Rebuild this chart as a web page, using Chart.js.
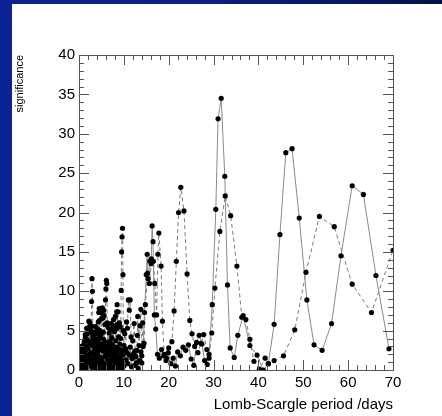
<!DOCTYPE html>
<html>
<head>
<meta charset="utf-8">
<script src="https://cdn.jsdelivr.net/npm/chart.js@4.4.0/dist/chart.umd.min.js"></script>
<style>
  html, body { margin: 0; padding: 0; }
  body {
    width: 442px; height: 416px; position: relative; overflow: hidden;
    background: linear-gradient(90deg, #0b2394 0%, #0a1f86 45%, #04124a 100%);
  }
  #paper { position: absolute; left: 12px; top: 4px; width: 430px; height: 412px; background: #fff; }
  #chart { position: absolute; left: 0; top: 0; }
</style>
</head>
<body>
<div id="paper"></div>
<canvas id="chart" width="442" height="416"></canvas>
<script>
// period grid for the dense short-period part (days)
const lowPeriods = [
  0.1, 0.2, 0.3, 0.4, 0.5, 0.6, 0.7, 0.8, 0.9, 1.0,
  1.1, 1.2, 1.3, 1.4, 1.5, 1.6, 1.7, 1.8, 1.9, 2.0,
  2.1, 2.2, 2.3, 2.4, 2.5, 2.6, 2.7, 2.8, 2.9, 3.0,
  3.1, 3.2, 3.3, 3.4, 3.5, 3.6, 3.7, 3.8, 3.9, 4.0,
  4.1, 4.2, 4.3, 4.4, 4.5, 4.6, 4.7, 4.8, 4.9, 5.0,
  5.1, 5.2, 5.3, 5.4, 5.5, 5.6, 5.7, 5.8, 5.9, 6.0,
  6.1, 6.2, 6.3, 6.4, 6.5, 6.6, 6.7, 6.8, 6.9, 7.0,
  7.1, 7.2, 7.3, 7.4, 7.5, 7.6, 7.7, 7.8, 7.9, 8.0,
  8.1, 8.2, 8.3, 8.4, 8.5, 8.6, 8.7, 8.8, 8.9, 9.0,
  9.1, 9.2, 9.3, 9.4, 9.5, 9.6, 9.7, 9.8, 9.9, 10.0
];

const solidLow = [
  0.3, 2.1, 1.0, 2.6, 0.1, 1.6, 2.9, 0.7, 1.9, 1.3,
  3.3, 0.4, 2.4, 4.1, 1.1, 3.0, 0.2, 4.6, 1.7, 2.7,
  5.4, 0.8, 3.6, 6.0, 1.4, 4.8, 2.2, 5.6, 0.3, 3.1,
  4.2, 1.9, 0.5, 3.4, 2.6, 0.9, 4.0, 1.4, 0.1, 2.9,
  2.2, 0.4, 3.6, 1.0, 3.0, 0.2, 4.1, 1.6, 0.7, 2.6,
  1.2, 3.3, 0.3, 2.4, 3.9, 0.8, 2.9, 1.7, 0.1, 2.1,
  3.5, 0.5, 2.7, 1.3, 0.2, 3.1, 2.0, 0.7, 2.4, 1.1,
  0.3, 2.8, 1.8, 0.4, 3.2, 2.3, 0.1, 1.5, 2.6, 0.9,
  2.0, 0.6, 2.9, 0.2, 1.4, 2.4, 0.4, 1.8, 1.0, 2.7,
  0.3, 1.7, 2.5, 0.7, 1.2, 2.2, 0.2, 1.9, 1.1, 0.5
];

const dashedLow = [
  1.1, 0.2, 2.4, 0.6, 1.7, 3.0, 0.3, 1.4, 2.8, 0.9,
  0.4, 3.6, 1.9, 4.5, 0.7, 2.6, 5.3, 1.2, 3.8, 0.5,
  4.9, 6.2, 2.0, 5.1, 3.3, 0.9, 5.0, 8.7, 11.6, 10.0,
  4.5, 1.3, 3.9, 0.6, 4.8, 2.2, 5.5, 1.0, 3.4, 4.6,
  1.8, 5.2, 6.1, 7.3, 7.8, 6.3, 5.0, 2.6, 4.4, 6.5,
  7.2, 7.9, 6.6, 4.8, 7.6, 6.9, 3.1, 5.8, 8.9, 10.3,
  11.4, 11.0, 6.0, 3.2, 5.4, 1.9, 4.7, 0.8, 3.6, 5.1,
  2.4, 5.9, 4.1, 1.5, 5.3, 3.0, 6.4, 2.1, 4.9, 5.6,
  6.8, 3.7, 5.2, 7.4, 8.3, 5.8, 7.4, 4.2, 2.5, 6.0,
  3.3, 5.5, 4.0, 10.1, 15.0, 16.9, 18.0, 12.1, 5.0, 3.1
];

// sparser long-period part
const solidHighPeriods = [
  10.2, 10.5, 10.7, 10.9, 11.2, 11.4, 11.7, 11.9, 12.2, 12.4, 12.7, 12.9, 13.2, 13.5,
  13.8, 14.0, 14.3, 14.6, 15.0, 15.2, 15.4, 15.8, 16.1, 16.3, 16.5, 16.8, 17.1, 17.5,
  17.9, 18.4, 18.9, 19.4, 19.9, 20.5, 21.0, 21.5, 22.0, 22.6, 23.2, 23.8, 24.4, 25.0,
  25.6, 26.2, 26.8, 27.4, 28.0, 28.6, 29.0, 29.7, 30.5, 31.0, 31.7, 32.5, 33.1, 33.7,
  34.6, 35.4, 36.6, 38.1, 39.7, 41.1, 42.2, 43.5, 44.8, 46.1, 47.5, 49.1, 50.8, 52.4,
  54.2, 56.3, 58.4, 60.9, 63.4, 66.2, 69.1
];
const solidHigh = [
  2.6, 1.3, 2.2, 0.8, 1.9, 2.9, 0.4, 1.5, 2.1, 0.6, 1.7, 2.5, 0.2, 1.2,
  2.3, 0.9, 3.0, 7.3, 12.1, 14.7, 11.6, 13.8, 14.1, 18.3, 16.3, 7.0, 5.2, 2.0,
  1.5, 2.6, 1.8, 1.2, 2.2, 0.8, 1.5, 0.5, 2.3, 1.8, 2.9, 2.5, 3.2, 1.4,
  0.6, 3.5, 4.4, 3.3, 1.2, 0.7, 2.0, 8.3, 20.4, 31.9, 34.5, 24.6, 10.8, 2.8,
  1.6, 4.4, 6.9, 3.1, 1.9, 0.0, 0.8, 5.8, 17.2, 27.6, 28.1, 19.3, 8.9, 3.2,
  2.5, 5.9, 14.5, 23.4, 22.3, 12.0, 2.7
];

const dashedHighPeriods = [
  10.2, 10.4, 10.6, 10.8, 11.0, 11.2, 11.4, 11.6, 11.8, 12.0, 12.3, 12.5, 12.8, 13.0,
  13.1, 13.4, 13.6, 13.8, 14.0, 14.2, 14.5, 14.8, 15.3, 15.7, 16.1, 16.6, 16.9, 17.3,
  17.6, 17.8, 18.3, 18.6, 19.0, 19.5, 20.0, 20.7, 21.2, 21.7, 22.2, 22.7, 23.4, 24.1,
  24.7, 25.2, 25.8, 26.5, 27.2, 27.8, 28.5, 29.0, 29.6, 30.3, 31.4, 32.6, 33.8, 35.2,
  36.3, 37.2, 38.1, 39.0, 40.2, 41.5, 42.2, 43.5, 45.6, 48.1, 50.6, 53.6, 56.9, 60.9,
  65.2, 70.0
];
const dashedHigh = [
  4.6, 2.7, 6.1, 5.3, 8.9, 7.6, 8.9, 4.2, 1.5, 3.7, 5.9, 2.4, 0.9, 4.4,
  6.8, 3.1, 5.6, 7.7, 1.8, 6.0, 3.4, 8.3, 12.3, 11.0, 13.5, 13.8, 11.0, 7.0,
  14.7, 17.4, 13.2, 6.2, 2.0, 1.5, 2.8, 3.6, 7.5, 13.8, 20.0, 23.2, 20.2, 12.2,
  6.3, 4.6, 3.0, 2.2, 3.4, 4.5, 2.6, 1.5, 4.7, 10.4, 17.6, 22.1, 19.6, 13.2,
  6.7, 6.4, 3.9, 1.1, 0.1, 1.5, 0.8, 1.2, 1.8, 5.1, 12.4, 19.5, 18.2, 10.9,
  7.3, 15.2
];

const xTicks = [0, 10, 20, 30, 40, 50, 60, 70];
const yTicks = [0, 5, 10, 15, 20, 25, 30, 35, 40];

function toPoints(xs, ys) {
    return xs.map((x, i) => ({ x: x, y: ys[i] }));
}

const solidData = toPoints(lowPeriods, solidLow).concat(toPoints(solidHighPeriods, solidHigh));
const dashedData = toPoints(lowPeriods, dashedLow).concat(toPoints(dashedHighPeriods, dashedHigh));

// ROOT-like frame with inward ticks on all four sides
const frameTicks = {
    id: 'frameTicks',
    afterDraw(chart) {
        const ctx = chart.ctx;
        const a = chart.chartArea;
        const xs = chart.scales.x, ys = chart.scales.y;
        ctx.save();
        ctx.strokeStyle = '#555';
        ctx.lineWidth = 1;
        ctx.beginPath();
        for (let v = 0; v <= 70; v += 2) {
            const px = Math.round(xs.getPixelForValue(v)) + 0.5;
            const len = v % 10 === 0 ? 10 : 5;
            ctx.moveTo(px, a.bottom); ctx.lineTo(px, a.bottom - len);
            ctx.moveTo(px, a.top); ctx.lineTo(px, a.top + len);
        }
        for (let v = 0; v <= 40; v += 1) {
            const py = Math.round(ys.getPixelForValue(v)) + 0.5;
            const len = v % 5 === 0 ? 10 : 5;
            ctx.moveTo(a.left, py); ctx.lineTo(a.left + len, py);
            ctx.moveTo(a.right, py); ctx.lineTo(a.right - len, py);
        }
        ctx.stroke();
        ctx.strokeRect(Math.round(a.left) + 0.5, Math.round(a.top) + 0.5,
                       Math.round(a.right - a.left), Math.round(a.bottom - a.top));
        ctx.restore();
    }
};

const font = 'Liberation Sans, Arial, Helvetica, sans-serif';

// lines drawn first (higher order), markers on top of all lines
function lineSet(data, color, dash) {
    return {
        data: data, order: 2,
        borderColor: color, borderWidth: 1, borderDash: dash,
        pointRadius: 0, tension: 0
    };
}
function markerSet(data) {
    return {
        data: data, order: 1,
        showLine: false,
        pointRadius: 2.6, pointBorderWidth: 0,
        pointBackgroundColor: '#000'
    };
}

new Chart(document.getElementById('chart').getContext('2d'), {
    type: 'line',
    data: {
        datasets: [
            lineSet(solidData, '#8a8a8a', []),
            lineSet(dashedData, '#7a7a7a', [4, 3]),
            markerSet(solidData),
            markerSet(dashedData)
        ]
    },
    options: {
        responsive: false,
        animation: false,
        layout: { padding: { top: 55, right: 49, left: 0, bottom: 0 } },
        plugins: { legend: { display: false }, tooltip: { enabled: false } },
        scales: {
            x: {
                type: 'linear',
                min: 0, max: 70,
                afterBuildTicks: s => { s.ticks = xTicks.map(v => ({ value: v })); },
                afterFit: s => { s.height = 46; },
                grid: { display: false, drawTicks: false },
                border: { display: false },
                ticks: { color: '#000', padding: 4, maxRotation: 0, font: { family: font, size: 15 } },
                title: {
                    display: true, text: 'Lomb-Scargle period /days', align: 'end',
                    color: '#000', padding: { bottom: 2, top: 0 }, font: { family: font, size: 15 }
                }
            },
            y: {
                min: 0, max: 40,
                afterBuildTicks: s => { s.ticks = yTicks.map(v => ({ value: v })); },
                afterFit: s => { s.width = 79; },
                grid: { display: false, drawTicks: false },
                border: { display: false },
                ticks: { color: '#000', padding: 4, font: { family: font, size: 15 } },
                title: {
                    display: true, text: 'significance', align: 'end',
                    color: '#000', padding: { top: 13, bottom: 0 }, font: { family: font, size: 11 }
                }
            }
        }
    },
    plugins: [frameTicks]
});
</script>
</body>
</html>
